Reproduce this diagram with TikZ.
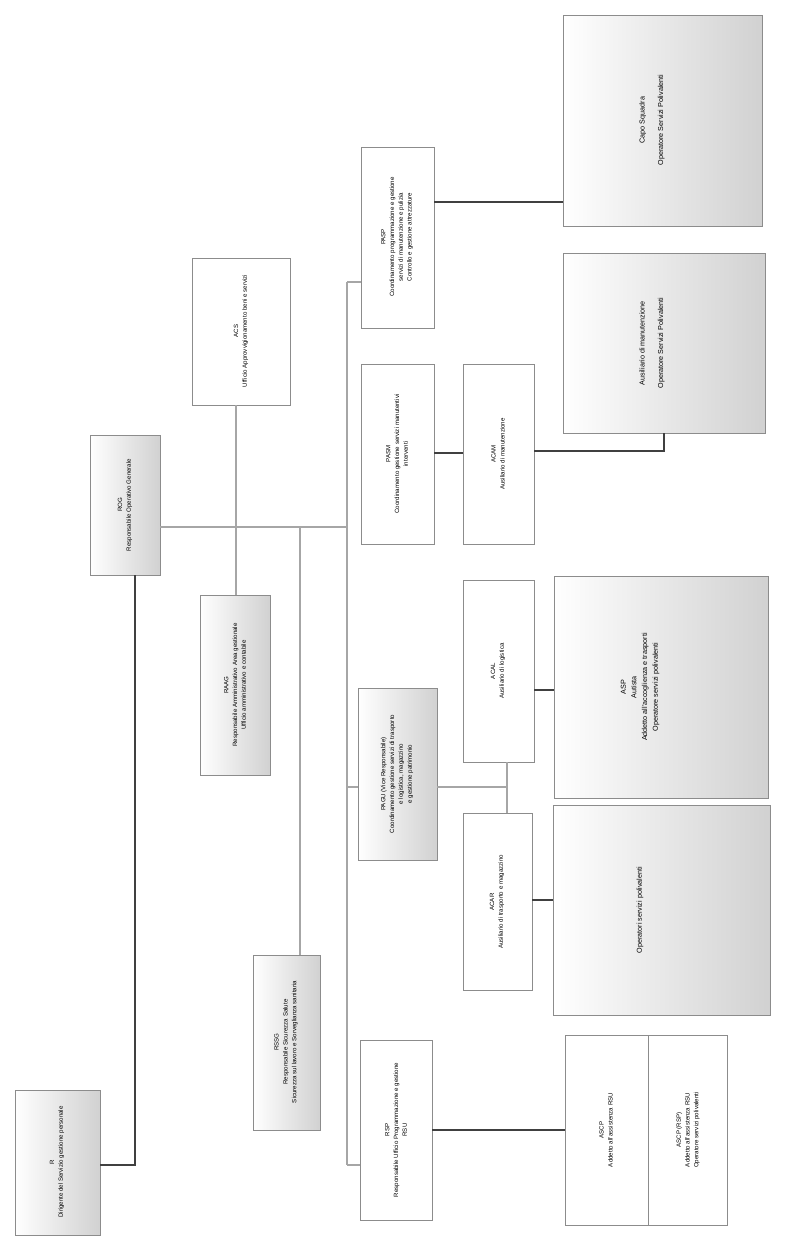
\documentclass[tikz,border=0pt]{standalone}
\usepackage{fontspec}
\setmainfont{Liberation Sans}
\begin{document}
\begin{tikzpicture}[x=0.75pt,y=-0.75pt,
  box/.style={draw=black!45,line width=0.5pt,fill=white},
  gbox/.style={draw=black!45,line width=0.5pt,left color=white,right color=black!18},
  lbl/.style={rotate=90,align=center,font=\fontsize{4.6}{6.6}\selectfont,inner sep=0pt},
  blbl/.style={rotate=90,align=center,font=\fontsize{5.4}{8}\selectfont,inner sep=0pt},
  thickline/.style={draw=black!75,line width=1.8pt},
  thinline/.style={draw=black!35,line width=0.9pt}]
\useasboundingbox[fill=white] (0,0) rectangle (793,1242);
% boxes
\draw[gbox] (15,1090) rectangle (100,1235);
\node[lbl] (R) at (57,1162) {R\\Dirigente del Servizio gestione personale};
\draw[gbox] (90,435) rectangle (160,575);
\node[lbl] (CEP) at (125,505) {ROG\\Responsabile Operativo Generale};
\draw[box] (192,258) rectangle (290,405);
\node[lbl] (ACS) at (241,331) {ACS\\Ufficio Approvvigionamento beni e servizi};
\draw[gbox] (200,595) rectangle (270,775);
\node[lbl] (RAAG) at (235,685) {RAAG\\Responsabile Amministrativo Area gestionale\\Ufficio amministrativo e contabile};
\draw[gbox] (253,955) rectangle (320,1130);
\node[lbl] (RSSG) at (286,1042) {RSSG\\Responsabile Sicurezza Salute\\Sicurezza sul lavoro e Sorveglianza sanitaria};
\draw[box] (361,147) rectangle (434,328);
\node[lbl] (PASP) at (397,237) {PASP\\Coordinamento programmazione e gestione\\servizi di manutenzione e pulizia\\Controllo e gestione attrezzature};
\draw[box] (361,364) rectangle (434,544);
\node[lbl] (PASM) at (397,454) {PASM\\Coordinamento gestione servizi manutentivi\\interventi};
\draw[gbox] (358,688) rectangle (437,860);
\node[lbl] (PAGU) at (397,774) {PAGU (Vice Responsabile)\\Coordinamento gestione servizi di trasporto\\e logistica, magazzino\\e gestione patrimonio};
\draw[box] (360,1040) rectangle (432,1220);
\node[lbl] (RSP) at (396,1130) {RSP\\Responsabile Ufficio Programmazione e gestione\\RSU};
\draw[box] (463,364) rectangle (534,544);
\node[lbl] (ACAM) at (498,454) {ACAM\\Ausiliario di manutenzione};
\draw[box] (463,580) rectangle (534,762);
\node[lbl] (ACAL) at (498,671) {ACAL\\Ausiliario di logistica};
\draw[box] (463,813) rectangle (532,990);
\node[lbl] (ACAR) at (497,902) {ACAR\\Ausiliario di trasporto e magazzino};
\draw[gbox] (563,15) rectangle (762,226);
\node[blbl] (B1) at (652,120) {Capo Squadra\\[6pt]Operatore Servizi Polivalenti};
\draw[gbox] (563,253) rectangle (765,433);
\node[blbl] (B2) at (652,343) {Ausiliario di manutenzione\\[6pt]Operatore Servizi Polivalenti};
\draw[gbox] (554,576) rectangle (768,798);
\node[blbl] (B3) at (640,687) {ASP\\Autista\\Addetto all'accoglienza e trasporti\\Operatore servizi polivalenti};
\draw[gbox] (553,805) rectangle (770,1015);
\node[blbl] (B4) at (640,910) {Operatori servizi polivalenti};
\draw[box] (565,1035) rectangle (727,1225);
\draw[draw=black!45] (648,1035) -- (648,1225);
\node[lbl] (B5a) at (606,1130) {ASCP\\Addetto all'assistenza RSU};
\node[lbl] (B5b) at (688,1130) {ASCP (RSP)\\Addetto all'assistenza RSU\\Operatore servizi polivalenti};
% connectors
\draw[thickline] (100,1165) -- (135,1165) -- (135,575);
\draw[thinline] (160,527) -- (347,527);
\draw[thinline] (236,405) -- (236,595);
\draw[thinline] (300,527) -- (300,955);
\draw[thinline] (347,282) -- (347,1165);
\draw[thinline] (347,282) -- (361,282);
\draw[thinline] (347,787) -- (358,787);
\draw[thinline] (347,1165) -- (360,1165);
\draw[thickline] (434,202) -- (563,202);
\draw[thickline] (434,453) -- (463,453);
\draw[thickline] (534,451) -- (664,451) -- (664,433);
\draw[thinline] (437,787) -- (507,787);
\draw[thinline] (507,762) -- (507,813);
\draw[thickline] (534,690) -- (554,690);
\draw[thickline] (532,900) -- (553,900);
\draw[thickline] (432,1130) -- (565,1130);
\end{tikzpicture}
\end{document}
